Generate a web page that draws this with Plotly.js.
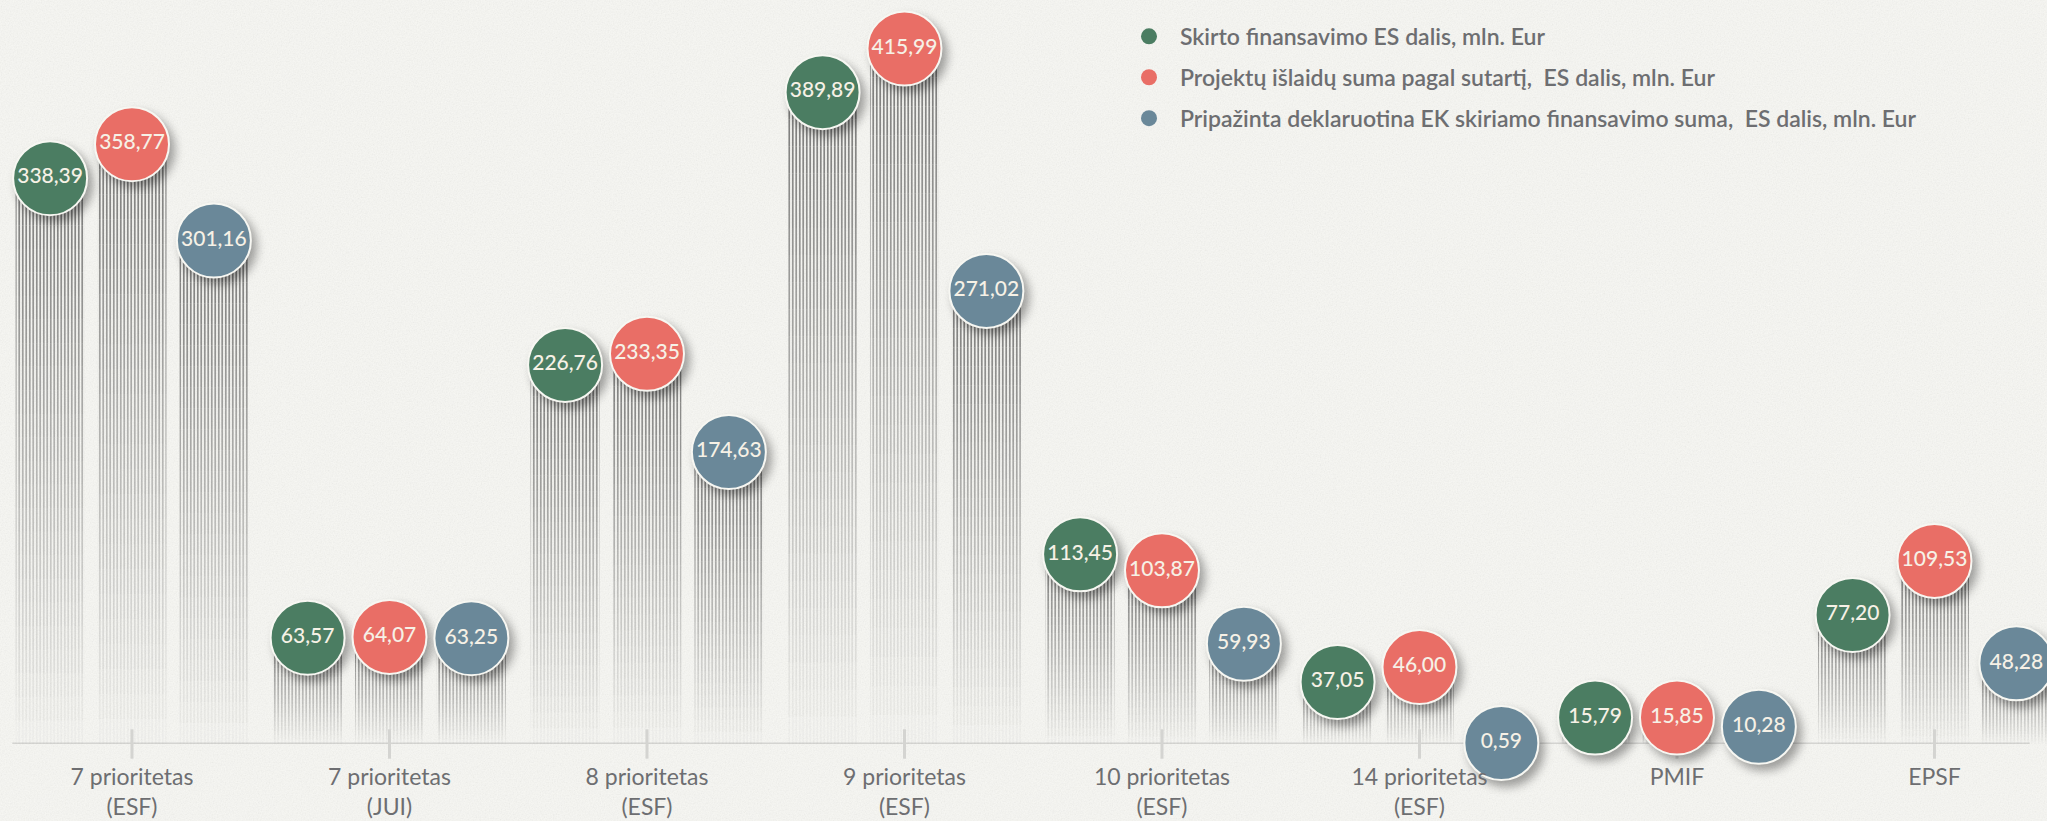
<!DOCTYPE html>
<html>
<head>
<meta charset="utf-8">
<script src="https://cdn.plot.ly/plotly-3.0.1.min.js"></script>
<style>
  html, body { margin: 0; padding: 0; background: #f8f8f4; }
  #chart { width: 2047px; height: 821px; }
</style>
</head>
<body>
<div id="chart"></div>
<script>
// ---- data ----
const categories = [
  '7 prioritetas<br>(ESF)',
  '7 prioritetas<br>(JUI)',
  '8 prioritetas<br>(ESF)',
  '9 prioritetas<br>(ESF)',
  '10 prioritetas<br>(ESF)',
  '14 prioritetas<br>(ESF)',
  'PMIF',
  'EPSF'
];
const seriesNames = [
  'Skirto finansavimo ES dalis, mln. Eur',
  'Projektų išlaidų suma pagal sutartį,  ES dalis, mln. Eur',
  'Pripažinta deklaruotina EK skiriamo finansavimo suma,  ES dalis, mln. Eur'
];
const skirto     = [338.39, 63.57, 226.76, 389.89, 113.45, 37.05, 15.79, 77.20];
const projektu   = [358.77, 64.07, 233.35, 415.99, 103.87, 46.00, 15.85, 109.53];
const pripazinta = [301.16, 63.25, 174.63, 271.02, 59.93, 0.59, 10.28, 48.28];
const seriesValues = [skirto, projektu, pripazinta];
const seriesColors = ['#4b7d62', '#e96e66', '#6a8899'];

// ---- styling / geometry ----
const STEP = 0.318;     // distance between bars in a group (category units)
const BAR_W = 0.268;    // bar width
const N_SEG = 24;       // fading segments per bar
const idx = categories.map((c, i) => i);
const fmt = v => v.toFixed(2).replace('.', ',');
const FONT = 'Lato, "Open Sans", sans-serif';

const traces = [];

// striped, fading bars
seriesValues.forEach((vals, s) => {
  for (let j = 0; j < N_SEG; j++) {
    const t = j / (N_SEG - 1);
    const a = 0.05 + 0.9 * t;
    traces.push({
      type: 'bar',
      x: idx.map(i => i + (s - 1) * STEP),
      y: vals.map(v => v / N_SEG),
      base: vals.map(v => v * j / N_SEG),
      width: BAR_W,
      marker: {
        color: 'rgba(0,0,0,0)',
        line: { width: 0 },
        pattern: { shape: '|', size: 3.5, solidity: 0.34, fgcolor: '#3a3a3a', fgopacity: a, bgcolor: 'rgba(0,0,0,0)' }
      },
      showlegend: false,
      hoverinfo: 'skip'
    });
  }
});

// category tick marks crossing the axis line
traces.push({
  type: 'scatter', mode: 'markers',
  x: idx, y: idx.map(() => 0),
  marker: { symbol: 'line-ns', size: 21, line: { width: 3, color: '#d4d4d1' } },
  cliponaxis: false, showlegend: false, hoverinfo: 'skip'
});

// value circles
seriesValues.forEach((vals, s) => {
  traces.push({
    type: 'scatter', mode: 'markers+text',
    x: idx.map(i => i + (s - 1) * STEP),
    y: vals,
    text: vals.map(fmt),
    textposition: 'middle center',
    textfont: { family: FONT, size: 21, color: '#f6f1e6', weight: 500 },
    marker: { size: 74, color: seriesColors[s], line: { width: 2, color: '#f7f7f2' } },
    cliponaxis: false, showlegend: false, hoverinfo: 'skip',
    meta: 'circle'
  });
});

// legend entries
seriesNames.forEach((name, s) => {
  traces.push({
    type: 'scatter', mode: 'markers',
    x: [null], y: [null],
    name: name,
    legendgroup: 'g' + s,
    marker: { size: 20, color: seriesColors[s] },
    showlegend: true
  });
});

// subtle paper texture
const noiseSvg = "<svg xmlns='http://www.w3.org/2000/svg' width='2047' height='821'>" +
  "<filter id='n' x='0' y='0' width='100%' height='100%'>" +
  "<feTurbulence type='fractalNoise' baseFrequency='0.75' numOctaves='3' stitchTiles='stitch'/>" +
  "<feColorMatrix type='matrix' values='1 0 0 0 0  1 0 0 0 0  1 0 0 0 0  0 0 0 0 0.08'/>" +
  "</filter><rect width='100%' height='100%' filter='url(#n)'/></svg>";

const layout = {
  width: 2047, height: 821,
  margin: { l: 0, r: 0, t: 0, b: 77, pad: 0 },
  paper_bgcolor: '#f7f7f3',
  plot_bgcolor: 'rgba(0,0,0,0)',
  barmode: 'overlay',
  font: { family: FONT, color: '#6d6e71' },
  xaxis: {
    range: [-0.5126, 7.437],
    tickvals: idx, ticktext: categories,
    showgrid: false, zeroline: false, showline: false,
    ticks: '',
    tickfont: { family: FONT, size: 23, color: '#6d6e71' },
    ticklabelstandoff: 17,
    fixedrange: true
  },
  yaxis: { range: [0, 445], visible: false, fixedrange: true },
  showlegend: true,
  legend: {
    x: 1118 / 2047, xanchor: 'left',
    y: 0.98, yanchor: 'top',
    bgcolor: 'rgba(0,0,0,0)',
    font: { family: FONT, size: 23, color: '#6d6e71', weight: 600 },
    itemwidth: 52,
    traceorder: 'grouped',
    tracegroupgap: 8
  },
  shapes: [{
    type: 'line', xref: 'x', yref: 'y',
    x0: -0.465, x1: 7.37, y0: 0, y1: 0,
    line: { color: '#d4d4d1', width: 3 },
    layer: 'below'
  }],
  images: [{
    source: 'data:image/svg+xml;charset=utf-8,' + encodeURIComponent(noiseSvg),
    xref: 'paper', yref: 'paper',
    x: 0, y: 1, sizex: 1, sizey: 821 / 744,
    xanchor: 'left', yanchor: 'top',
    sizing: 'stretch', layer: 'below'
  }]
};

Plotly.newPlot('chart', traces, layout, { staticPlot: true, displayModeBar: false }).then(gd => {
  gd.querySelectorAll('g.trace.scatter').forEach(g => {
    const d = g.__data__;
    if (d && d[0] && d[0].trace && d[0].trace.meta === 'circle') {
      g.querySelectorAll('path.point').forEach(p => {
        p.style.filter = 'drop-shadow(5px 6px 5px rgba(0,0,0,0.35))';
      });
    }
  });
});
</script>
</body>
</html>
